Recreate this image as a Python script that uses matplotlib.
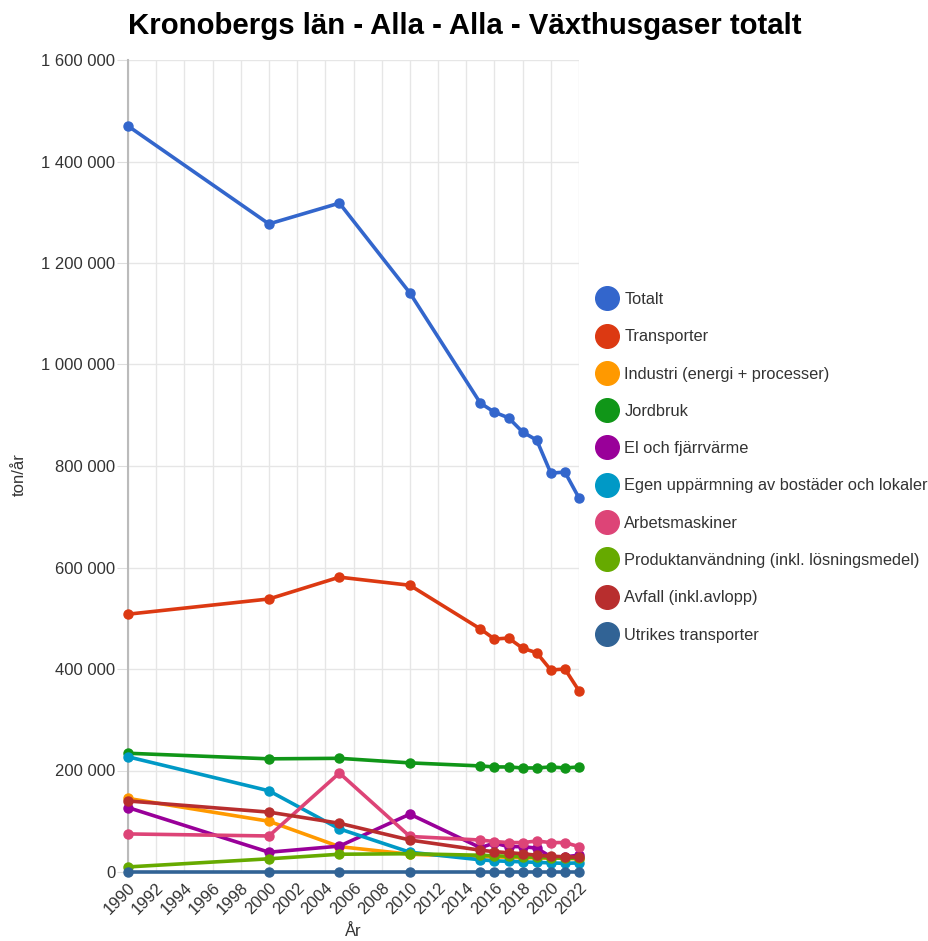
import matplotlib.pyplot as plt
from matplotlib.ticker import FuncFormatter, MultipleLocator
from matplotlib.lines import Line2D

plt.rcParams['font.family'] = ['Liberation Sans', 'DejaVu Sans']

years = [1990, 2000, 2005, 2010, 2015, 2016, 2017, 2018, 2019, 2020, 2021, 2022]

totalt = [1470000, 1277000, 1318000, 1141000, 924000, 906000, 895000, 867000, 851000, 786000, 788000, 737000]
transporter = [508000, 538000, 581000, 565000, 479000, 459000, 461000, 441000, 432000, 398000, 400000, 357000]
industri = [145000, 100000, 50000, 35000, 30000, 30000, 29000, 28000, 28000, 27000, 27000, 26000]
jordbruk = [234000, 223000, 224000, 215000, 209000, 207000, 207000, 205000, 205000, 207000, 205000, 207000]
el_fjarrvarme = [127000, 39000, 51000, 114000, 48000, 57000, 50000, 50000, 47000, 30000, 30000, 33000]
egen_uppvarmning = [227000, 160000, 85000, 39000, 24000, 22000, 21000, 20000, 19000, 18000, 17000, 18000]
arbetsmaskiner = [75000, 71000, 195000, 70000, 63000, 60000, 58000, 58000, 61000, 58000, 58000, 50000]
produktanvandning = [10000, 26000, 35000, 36000, 33000, 32000, 31000, 30000, 29000, 28000, 27000, 27000]
avfall = [140000, 118000, 96000, 63000, 43000, 40000, 38000, 36000, 33000, 31000, 30000, 29000]
utrikes = [500, 500, 500, 500, 500, 500, 500, 500, 500, 500, 500, 500]

series = [
    ("Totalt", totalt, "#3366cc"),
    ("Transporter", transporter, "#dc3912"),
    ("Industri (energi + processer)", industri, "#ff9900"),
    ("Jordbruk", jordbruk, "#109618"),
    ("El och fjärrvärme", el_fjarrvarme, "#990099"),
    ("Egen uppärmning av bostäder och lokaler", egen_uppvarmning, "#0099c6"),
    ("Arbetsmaskiner", arbetsmaskiner, "#dd4477"),
    ("Produktanvändning (inkl. lösningsmedel)", produktanvandning, "#66aa00"),
    ("Avfall (inkl.avlopp)", avfall, "#b82e2e"),
    ("Utrikes transporter", utrikes, "#316395"),
]

fig = plt.figure(figsize=(9.29, 9.41), dpi=100)
W, H = 929, 941
ax = fig.add_axes([128 / W, 1 - 872 / H, (579 - 128) / W, (872 - 60) / H])

for name, vals, col in series:
    ax.plot(years, vals, color=col, lw=2.6, marker="o", markersize=6.5, clip_on=False, zorder=3)

ax.set_xlim(1990, 2022)
ax.set_ylim(0, 1600000)
ax.xaxis.set_major_locator(MultipleLocator(2))
ax.yaxis.set_major_locator(MultipleLocator(200000))
ax.yaxis.set_major_formatter(FuncFormatter(lambda v, p: f"{int(v):,}".replace(",", " ")))
ax.grid(True, color="#e6e6e6", lw=1)
ax.set_axisbelow(True)
for s in ["top", "right", "bottom"]:
    ax.spines[s].set_visible(False)
ax.spines["left"].set_color("#bbbbbb")
ax.spines["left"].set_linewidth(1.5)
ax.tick_params(axis="both", length=0, labelsize=12, colors="#333333", pad=6)
ax.tick_params(axis="y", length=8, color="#dddddd", pad=1)
plt.setp(ax.get_xticklabels(), rotation=45, ha="right", rotation_mode="anchor")
ax.set_xlabel("År", fontsize=12, color="#333333")
ax.set_ylabel("ton/år", fontsize=12, color="#333333")
ax.xaxis.set_label_coords(0.5, -(924 - 872) / 812)
ax.yaxis.set_label_coords(-(128 - 27) / 451, 0.49)

fig.text(0.5, 1 - 26 / H, "Kronobergs län - Alla - Alla - Växthusgaser totalt",
         fontsize=21.2, fontweight="bold", ha="center", va="center")

handles = [Line2D([], [], ls="none", marker="o", markersize=17, color=c) for _, _, c in series]
fig.legend(handles, [n for n, _, _ in series], loc="upper left", bbox_to_anchor=(599 / W, 1 - 292 / H),
           frameon=False, fontsize=11.8, handlelength=1.0, handletextpad=0.55, labelspacing=1.36,
           borderaxespad=0, borderpad=0, labelcolor="#333333")

fig.savefig("out.png", dpi=100)
